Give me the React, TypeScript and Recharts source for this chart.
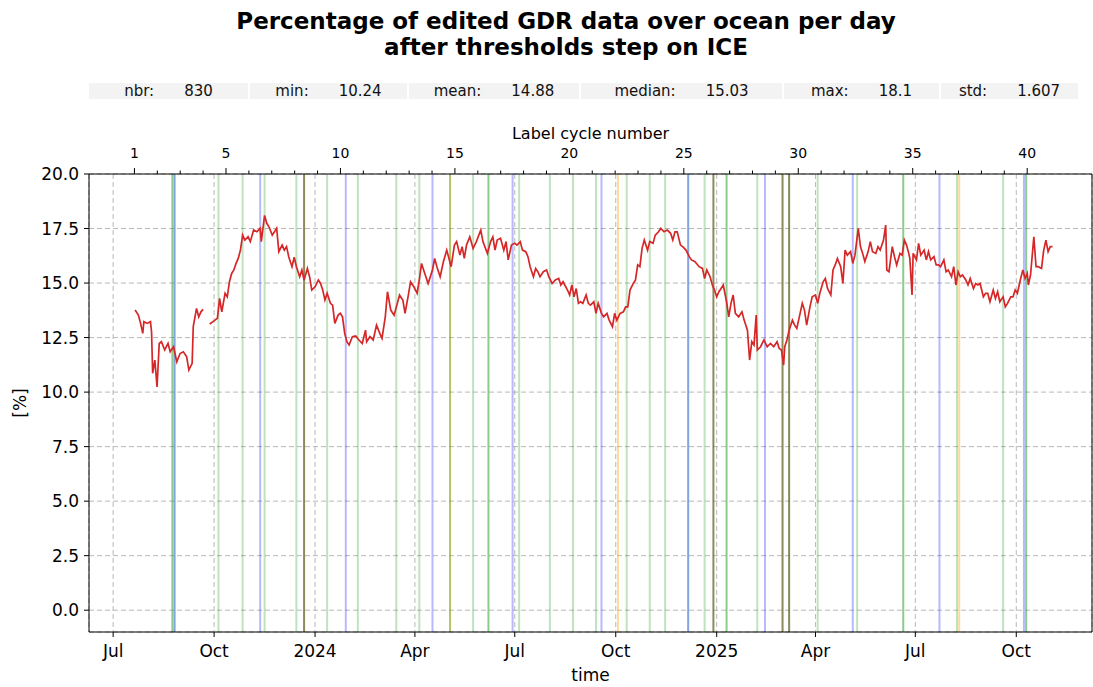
import React from "react";
import {
  ComposedChart,
  Line,
  XAxis,
  YAxis,
  CartesianGrid,
  ReferenceLine,
  Label,
} from "recharts";

// days are counted from this date
const DAY0 = "2023-07-01";
const toDay = (iso: string) => (Date.parse(iso) - Date.parse(DAY0)) / 86400000;

const monthTickDates = [
  "2023-07-01", "2023-10-01", "2024-01-01", "2024-04-01", "2024-07-01",
  "2024-10-01", "2025-01-01", "2025-04-01", "2025-07-01", "2025-10-01",
];
const monthTickLabels = ["Jul", "Oct", "2024", "Apr", "Jul", "Oct", "2025", "Apr", "Jul", "Oct"];

const yTicks = [0, 2.5, 5, 7.5, 10, 12.5, 15, 17.5, 20];

// label cycles (top axis)
const cycleNumbers = Array.from({ length: 40 }, (_, i) => i + 1);
const cycleLabelled = [1, 5, 10, 15, 20, 25, 30, 35, 40];
const CYCLE1_DAY = 19.4;
const CYCLE_LENGTH = 20.86;

const statLabels = ["nbr:", "min:", "mean:", "median:", "max:", "std:"];
const statValues = ["830", "10.24", "14.88", "15.03", "18.1", "1.607"];

// daily percentage of edited data (sampled), day index from DAY0
const dataDay = [
  20, 23, 25, 27, 28, 31, 34, 35, 36, 38,
  40, 42, 44, 47, 50, 52, 55, 58, 61, 64,
  67, 69, 72, 73, 76, 78, 80, 82, 85, 88,
  91, 95, 97, 99, 102, 104, 106, 108, 110, 112,
  114, 116, 118, 120, 123, 125, 128, 131, 134, 135,
  138, 140, 142, 145, 147, 149, 151, 154, 156, 158,
  160, 163, 165, 167, 170, 172, 174, 177, 179, 181,
  184, 187, 189, 191, 193, 195, 198, 200, 202, 205,
  207, 209, 211, 213, 215, 218, 221, 224, 227, 230,
  231, 234, 237, 240, 243, 245, 248, 250, 253, 256,
  259, 261, 264, 266, 269, 271, 274, 277, 279, 281,
  284, 287, 291, 293, 295, 298, 301, 304, 308, 311,
  313, 316, 318, 320, 322, 325, 328, 331, 335, 337,
  341, 344, 346, 348, 350, 353, 356, 358, 360, 363,
  366, 368, 371, 373, 376, 378, 380, 383, 385, 387,
  389, 392, 395, 397, 400, 403, 406, 408, 410, 414,
  416, 418, 420, 422, 424, 426, 428, 431, 433, 435,
  438, 440, 442, 445, 447, 450, 452, 455, 457, 459,
  462, 465, 467, 469, 471, 474, 476, 478, 480, 482,
  484, 487, 489, 492, 494, 497, 499, 502, 505, 508,
  510, 512, 514, 517, 519, 522, 525, 527, 530, 534,
  537, 539, 541, 544, 546, 548, 550, 552, 554, 556,
  559, 561, 563, 565, 567, 570, 573, 575, 578, 580,
  582, 584, 586, 587, 590, 593, 596, 599, 602, 605,
  607, 609, 611, 612, 614, 616, 619, 621, 623, 626,
  628, 630, 632, 635, 637, 640, 642, 644, 647, 649,
  651, 654, 656, 658, 660, 663, 665, 667, 669, 672,
  674, 676, 679, 681, 683, 685, 688, 690, 692, 695,
  697, 699, 702, 704, 705, 707, 710, 712, 714, 717,
  719, 721, 723, 725, 726, 728, 729, 732, 734, 736,
  739, 741, 743, 745, 748, 750, 752, 754, 757, 759,
  761, 764, 766, 768, 770, 772, 774, 777, 779, 781,
  784, 786, 788, 790, 793, 795, 797, 799, 802, 804,
  806, 808, 811, 813, 815, 818, 820, 822, 824, 827,
  829, 831, 833, 834, 836, 839, 841, 843, 846, 848,
  850, 852, 854, 856,
];
const dataPct: (number | null)[] = [
  13.76, 13.53, 13.15, 12.69, 13.23, 13.15, 13.23, 12.77, 10.86, 11.47,
  10.24, 12.23, 12.31, 11.93, 12.23, 11.85, 12.08, 11.39, 11.77, 11.85,
  11.62, 11.01, 11.32, 13.0, 13.84, 13.45, 13.68, 13.79, null, 13.12,
  13.23, 13.38, 14.3, 13.68, 14.53, 14.37, 15.06, 15.44, 15.6, 15.9,
  16.13, 16.51, 17.2, 16.97, 17.12, 16.9, 17.43, 17.35, 17.51, 16.9,
  18.1, 17.74, 17.58, 17.2, 17.35, 17.51, 16.44, 16.74, 16.51, 16.67,
  16.21, 15.75, 16.18, 15.75, 15.29, 15.6, 15.14, 15.67, 15.29, 14.68,
  14.83, 15.14, 14.98, 14.68, 14.22, 14.53, 14.07, 13.99, 13.15, 13.53,
  13.61, 13.45, 12.69, 12.31, 12.16, 12.54, 12.57, 12.39, 12.23, 12.84,
  12.31, 12.54, 12.39, 13.07, 12.69, 12.46, 13.45, 14.6, 13.76, 13.53,
  14.07, 14.45, 14.22, 13.61, 14.45, 15.06, 14.83, 14.53, 15.14, 15.9,
  15.44, 14.98, 15.6, 16.13, 15.75, 15.29, 15.99, 16.51, 15.75, 16.74,
  16.9, 16.28, 16.67, 16.13, 16.74, 17.12, 16.59, 16.9, 17.43, 16.9,
  16.36, 16.9, 17.12, 16.51, 16.97, 17.05, 16.51, 16.9, 16.06, 16.74,
  16.82, 16.74, 16.9, 16.51, 16.44, 16.21, 15.75, 15.29, 15.67, 15.52,
  15.29, 15.52, 15.6, 15.29, 14.98, 15.14, 15.21, 14.91, 15.06, 14.68,
  14.45, 14.91, 14.37, 14.75, 14.07, 14.14, 14.07, 14.45, 14.07, 13.99,
  14.14, 13.61, 14.07, 13.61, 13.45, 13.61, 13.3, 13.0, 13.61, 13.3,
  13.61, 13.68, 13.91, 13.91, 14.68, 14.98, 15.14, 15.83, 15.75, 16.59,
  16.97, 16.51, 16.9, 16.82, 17.2, 17.35, 17.51, 17.35, 17.43, 17.28,
  16.97, 17.35, 17.35, 16.74, 16.67, 16.51, 16.21, 16.06, 15.99, 15.75,
  15.67, 15.21, 15.6, 15.29, 14.91, 14.68, 14.37, 14.6, 14.75, 14.91,
  14.14, 13.45, 14.07, 14.45, 13.61, 13.45, 13.68, 13.3, 12.84, 11.47,
  12.31, 12.16, 13.53, 11.93, 12.08, 12.39, 12.08, 12.23, 12.08, 12.31,
  12.0, 11.93, 11.24, 12.08, 12.39, 12.84, 13.3, 13.07, 12.92, 13.61,
  14.07, 13.76, 13.07, 13.91, 14.37, 14.45, 14.07, 14.53, 15.06, 15.21,
  14.75, 14.45, 15.6, 15.83, 16.13, 15.75, 14.98, 16.51, 16.28, 16.44,
  15.9, 16.28, 17.51, 16.67, 16.36, 15.99, 16.44, 16.9, 16.44, 16.36,
  16.67, 16.51, 16.97, 17.66, 15.6, 15.52, 16.67, 16.21, 15.83, 16.36,
  16.28, 16.97, 16.74, 16.36, 16.13, 14.45, 16.36, 16.06, 16.82, 16.28,
  16.51, 16.06, 16.44, 16.06, 16.21, 15.83, 15.83, 15.75, 16.06, 15.52,
  15.6, 15.29, 15.75, 14.91, 15.52, 15.29, 15.37, 15.14, 14.91, 15.21,
  14.75, 14.98, 14.91, 14.98, 14.37, 14.53, 14.53, 14.14, 14.68, 14.29,
  14.6, 14.14, 14.37, 13.91, 14.07, 14.37, 14.37, 14.68, 14.53, 15.21,
  15.6, 15.21, 15.44, 14.91, 15.37, 17.12, 15.75, 15.75, 15.67, 16.51,
  16.97, 16.44, 16.67, 16.67,
];

// events drawn as vertical lines
const eventDates = [
  "2023-08-24", "2023-08-26", "2023-10-05", "2023-10-27", "2023-11-12",
  "2023-11-16", "2023-12-15", "2023-12-22", "2024-01-12", "2024-01-29",
  "2024-02-09", "2024-03-15", "2024-04-05", "2024-04-17", "2024-05-03",
  "2024-05-24", "2024-06-07", "2024-06-29", "2024-07-05", "2024-08-02",
  "2024-08-23", "2024-09-13", "2024-09-18", "2024-10-03", "2024-10-11",
  "2024-11-01", "2024-11-15", "2024-12-06", "2024-12-21", "2024-12-29",
  "2025-01-10", "2025-02-07", "2025-02-14", "2025-03-02", "2025-03-08",
  "2025-04-03", "2025-05-05", "2025-05-09", "2025-06-20", "2025-07-23",
  "2025-08-08", "2025-08-10", "2025-09-19", "2025-10-08", "2025-10-10",
];
const eventKinds = [
  "green", "steelBlue", "lightGreen", "lightGreen", "blue",
  "lightGreen", "lightGreen", "olive", "lightGreen", "blue",
  "lightGreen", "lightGreen", "lightGreen", "blue", "oliveGreen",
  "lightGreen", "green", "blue", "lightGreen", "lightGreen",
  "lightGreen", "lightGreen", "blue", "orange", "lightGreen",
  "lightGreen", "lightGreen", "steelBlue", "lightGreen", "olive",
  "green", "lightGreen", "blue", "olive", "olive",
  "lightGreen", "blue", "lightGreen", "green", "blue",
  "lightGreen", "orange", "lightGreen", "blue", "green",
];
const kindColors: Record<string, string> = {
  lightGreen: "rgba(44,160,44,0.3)",
  green: "rgba(44,160,44,0.55)",
  blue: "rgba(0,0,255,0.28)",
  steelBlue: "rgba(30,90,200,0.55)",
  olive: "rgba(90,90,20,0.7)",
  oliveGreen: "rgba(128,160,0,0.6)",
  orange: "rgba(255,165,0,0.4)",
};

const statCellWidths = [159, 157, 170, 201, 155, 137];

const rows = dataDay.map((d, i) => ({ day: d, pct: dataPct[i] }));
const monthDays = monthTickDates.map(toDay);
const cycleDays = cycleNumbers.map((n) => CYCLE1_DAY + (n - 1) * CYCLE_LENGTH);
const X_DOMAIN: [number, number] = [-22, 892];
const FONT = "'DejaVu Sans', sans-serif";

const CycleTick = (props: any) => {
  const { x, y, index } = props;
  const n = cycleNumbers[index];
  const major = cycleLabelled.includes(n);
  return (
    <g>
      <line x1={x} x2={x} y1={y} y2={y - (major ? 6 : 3.5)} stroke="#000" strokeWidth={1} />
      {major && (
        <text x={x} y={y - 16} textAnchor="middle" fontSize={14} fill="#000" fontFamily={FONT}>
          {n}
        </text>
      )}
    </g>
  );
};

export default function App() {
  let left = 89;
  const cells = statCellWidths.map((w, i) => {
    const cell = (
      <div
        key={i}
        style={{
          position: "absolute",
          left,
          top: 83,
          width: w,
          height: 16,
          background: "#f3f3f3",
          display: "flex",
          justifyContent: "center",
          alignItems: "center",
          gap: 30,
          fontSize: 15,
          color: "#111",
        }}
      >
        <span>{statLabels[i]}</span>
        <span>{statValues[i]}</span>
      </div>
    );
    left += w + 2;
    return cell;
  });

  return (
    <div
      style={{
        position: "absolute",
        left: 0,
        top: 0,
        width: 1093,
        height: 687,
        background: "#fff",
        fontFamily: FONT,
      }}
    >
      <div
        style={{
          position: "absolute",
          left: 0,
          top: 8,
          width: 1132,
          textAlign: "center",
          fontWeight: "bold",
          fontSize: 23,
          lineHeight: "26px",
          color: "#000",
        }}
      >
        Percentage of edited GDR data over ocean per day
        <br />
        after thresholds step on ICE
      </div>
      {cells}

      <div style={{ position: "absolute", left: 0, top: 0 }}>
        <ComposedChart
          width={1093}
          height={687}
          data={rows}
          margin={{ top: 134, right: 0, bottom: 0, left: 0 }}
        >
          <CartesianGrid
            xAxisId="bottom"
            yAxisId="left"
            stroke="#b0b0b0"
            strokeDasharray="5 3"
            strokeWidth={0.9}
          />
          <XAxis
            xAxisId="bottom"
            dataKey="day"
            type="number"
            domain={X_DOMAIN}
            allowDataOverflow
            ticks={monthDays}
            interval={0}
            tickFormatter={(v: number) => monthTickLabels[monthDays.indexOf(v)] ?? ""}
            height={55}
            tickSize={5}
            tickMargin={8}
            stroke="#000"
            tick={{ fill: "#000", fontSize: 17 }}
          >
            <Label value="time" position="insideBottom" offset={6} style={{ fontSize: 17, fill: "#000" }} />
          </XAxis>
          <XAxis
            xAxisId="top"
            orientation="top"
            dataKey="day"
            type="number"
            domain={X_DOMAIN}
            allowDataOverflow
            ticks={cycleDays}
            interval={0}
            tickLine={false}
            tickSize={0}
            tickMargin={0}
            tick={<CycleTick />}
            height={40}
            stroke="#000"
          >
            <Label value="Label cycle number" position="top" offset={-5} style={{ fontSize: 16, fill: "#000" }} />
          </XAxis>
          <YAxis
            yAxisId="left"
            domain={[-1, 20]}
            ticks={yTicks}
            interval={0}
            allowDataOverflow
            tickFormatter={(v: number) => v.toFixed(1)}
            width={89}
            tickSize={5}
            tickMargin={5}
            stroke="#000"
            tick={{ fill: "#000", fontSize: 17 }}
          >
            <Label
              content={(p: any) => {
                const vb = p.viewBox;
                const cy = vb.y + vb.height / 2;
                return (
                  <text
                    x={20}
                    y={cy}
                    transform={`rotate(-90 20 ${cy})`}
                    textAnchor="middle"
                    dominantBaseline="central"
                    fontSize={17}
                    fill="#000"
                  >
                    [%]
                  </text>
                );
              }}
            />
          </YAxis>
          <YAxis yAxisId="right" orientation="right" domain={[-1, 20]} width={1} tick={false} tickLine={false} stroke="#000" />
          {eventDates.map((d, i) => (
            <ReferenceLine
              key={d + i}
              xAxisId="bottom"
              yAxisId="left"
              x={toDay(d)}
              stroke={kindColors[eventKinds[i]]}
              strokeWidth={2}
            />
          ))}
          <Line
            xAxisId="bottom"
            yAxisId="left"
            dataKey="pct"
            stroke="#d62728"
            strokeWidth={1.7}
            dot={false}
            connectNulls={false}
            isAnimationActive={false}
          />
        </ComposedChart>
      </div>
    </div>
  );
}
